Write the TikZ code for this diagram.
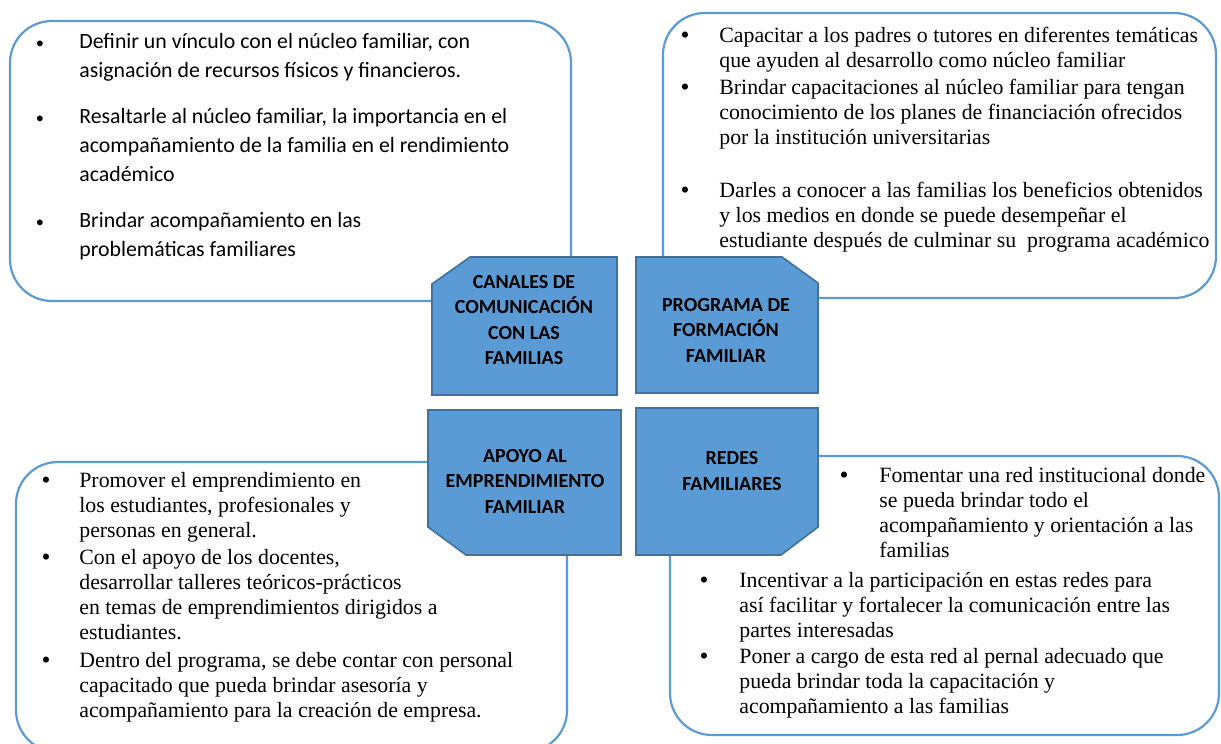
\documentclass[tikz,border=0pt]{standalone}
\usepackage{fontspec}
\setmainfont{Liberation Serif}
\newfontfamily\calibri{Carlito}
\definecolor{azulclaro}{HTML}{5B9BD5}
\definecolor{azulborde}{HTML}{41719C}
\newcommand{\lineas}[1]{\begin{tabular}[t]{@{}l@{}}#1\end{tabular}}
\begin{document}
\begin{tikzpicture}[x=0.55pt,y=-0.55pt,
  marco/.style={draw=azulclaro,line width=1.2pt,rounded corners=23pt},
  tema/.style={draw=azulborde,fill=azulclaro,line width=0.9pt},
  titulo/.style={font=\calibri\bfseries\fontsize{11}{14}\selectfont,align=center,inner sep=0pt},
  textoA/.style={font=\calibri\fontsize{12}{15.95}\selectfont,anchor=base west,inner sep=0pt},
  textoB/.style={font=\fontsize{12}{13.9}\selectfont,anchor=base west,inner sep=0pt},
  vinetaA/.style={font=\calibri\fontsize{9}{10}\selectfont,anchor=base,inner sep=0pt},
  vinetaB/.style={font=\fontsize{14}{14}\selectfont,anchor=base,inner sep=0pt}]
\useasboundingbox (0,0) rectangle (1221,743);
\clip (0,0) rectangle (1221,743);
\draw[marco] (10,21) rectangle (571,301);
\draw[marco] (663,13) rectangle (1216,298);
\draw[marco] (16,462) rectangle (567,752);
\draw[marco] (670,456) rectangle (1219,735);
\draw[tema] (432,284) -- (470,257) -- (617,257) -- (617,395) -- (432,395) -- cycle;
\draw[tema] (636,257) -- (782,257) -- (818,283) -- (818,393) -- (636,393) -- cycle;
\draw[tema] (428,410) -- (621,410) -- (621,555) -- (466,555) -- (428,527) -- cycle;
\draw[tema] (636,408) -- (818,408) -- (818,527) -- (781,555) -- (636,555) -- cycle;
\node[titulo] (canales) at (524,320) {CANALES DE\\COMUNICACIÓN\\CON LAS\\FAMILIAS};
\node[titulo] (programa) at (726,330) {PROGRAMA DE\\FORMACIÓN\\FAMILIAR};
\node[titulo] (apoyo) at (525,481) {APOYO AL\\EMPRENDIMIENTO\\FAMILIAR};
\node[titulo] (redes) at (732,471) {REDES\\FAMILIARES};
\node[vinetaA] (bTL1) at (40,48) {\textbullet};
\node[textoA] (tl1) at (79,48) {\lineas{Definir un vínculo con el núcleo familiar, con\\asignación de recursos físicos y financieros.}};
\node[vinetaA] (bTL2) at (40,123) {\textbullet};
\node[textoA] (tl2) at (79,123) {\lineas{Resaltarle al núcleo familiar, la importancia en el\\acompañamiento de la familia en el rendimiento\\académico}};
\node[vinetaA] (bTL3) at (40,227) {\textbullet};
\node[textoA] (tl3) at (79,227) {\lineas{Brindar acompañamiento en las\\problemáticas familiares}};
\node[vinetaB] (bTR1) at (685,43) {\textbullet};
\node[textoB] (tr1) at (719,42) {\lineas{Capacitar a los padres o tutores en diferentes temáticas\\que ayuden al desarrollo como núcleo familiar}};
\node[vinetaB] (bTR2) at (685,95) {\textbullet};
\node[textoB] (tr2) at (719,94) {\lineas{Brindar capacitaciones al núcleo familiar para tengan\\conocimiento de los planes de financiación ofrecidos\\por la institución universitarias}};
\node[vinetaB] (bTR3) at (685,198) {\textbullet};
\node[textoB] (tr3) at (719,197) {\lineas{Darles a conocer a las familias los beneficios obtenidos\\y los medios en donde se puede desempeñar el\\estudiante después de culminar su \ programa académico}};
\node[vinetaB] (bBL1) at (46,488) {\textbullet};
\node[textoB] (bl1) at (79,487) {\lineas{Promover el emprendimiento en\\los estudiantes, profesionales y\\personas en general.}};
\node[vinetaB] (bBL2) at (46,565) {\textbullet};
\node[textoB] (bl2) at (79,564) {\lineas{Con el apoyo de los docentes,\\desarrollar talleres teóricos-prácticos\\en temas de emprendimientos dirigidos a\\estudiantes.}};
\node[vinetaB] (bBL3) at (46,668) {\textbullet};
\node[textoB] (bl3) at (79,667) {\lineas{Dentro del programa, se debe contar con personal\\capacitado que pueda brindar asesoría y\\acompañamiento para la creación de empresa.}};
\node[vinetaB] (bBR1) at (844,483) {\textbullet};
\node[textoB] (br1) at (879,482) {\lineas{Fomentar una red institucional donde\\se pueda brindar todo el\\acompañamiento y orientación a las\\familias}};
\node[vinetaB] (bBR2) at (704,588) {\textbullet};
\node[textoB] (br2) at (739,587) {\lineas{Incentivar a la participación en estas redes para\\así facilitar y fortalecer la comunicación entre las\\partes interesadas}};
\node[vinetaB] (bBR3) at (704,664) {\textbullet};
\node[textoB] (br3) at (739,663) {\lineas{Poner a cargo de esta red al pernal adecuado que\\pueda brindar toda la capacitación y\\acompañamiento a las familias}};
\end{tikzpicture}
\end{document}
